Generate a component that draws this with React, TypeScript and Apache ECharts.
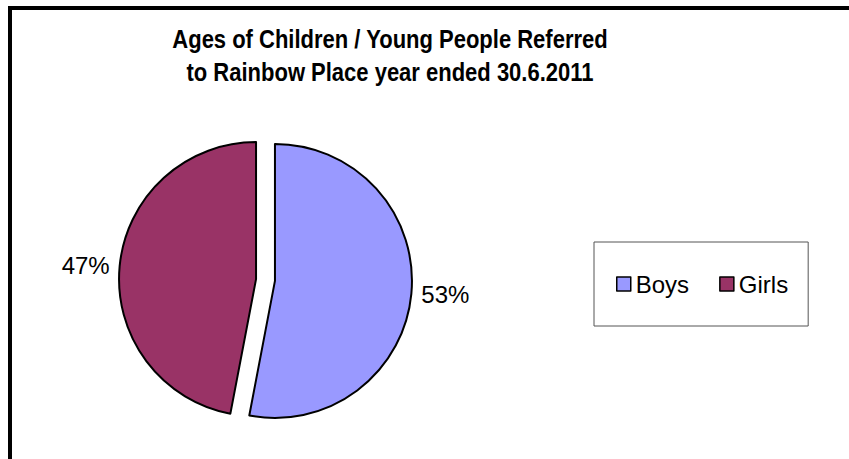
import React, { useEffect, useRef } from "react";
import * as echarts from "echarts";

const titleLines = [
  "Ages of Children / Young People Referred",
  "to Rainbow Place year ended 30.6.2011",
];
const categories = ["Boys", "Girls"];
const values = [53, 47];
const colors = ["#9999FF", "#993366"];

export default function App() {
  const ref = useRef<HTMLDivElement>(null);
  useEffect(() => {
    if (!ref.current) return;
    const chart = echarts.init(ref.current, undefined, { renderer: "svg" });
    const font = "'Liberation Sans', Arial, Helvetica, sans-serif";
    chart.setOption({
      animation: false,
      backgroundColor: "#ffffff",
      graphic: [
        {
          type: "rect",
          shape: { x: 10, y: 8, width: 1000, height: 1000 },
          style: { fill: "none", stroke: "#000", lineWidth: 4 },
          silent: true,
          z: 10,
        },
        ...titleLines.map((t, i) => ({
          type: "text",
          x: 390,
          y: i === 0 ? 39 : 72.5,
          scaleY: 1.14,
          style: {
            text: t,
            font: `bold 22px ${font}`,
            fill: "#000",
            textAlign: "center",
            textVerticalAlign: "middle",
          },
          silent: true,
        })),
      ],
      legend: {
        data: categories,
        orient: "horizontal",
        left: 594,
        top: 242,
        padding: [30, 20, 30, 22],
        itemGap: 30,
        itemWidth: 14,
        itemHeight: 14,
        icon: "rect",
        borderColor: "#555",
        borderWidth: 1,
        borderRadius: 0,
        selectedMode: false,
        itemStyle: { borderColor: "#000", borderWidth: 1.5 },
        textStyle: { fontFamily: font, fontSize: 24, color: "#000" },
      },
      series: [
        {
          type: "pie",
          center: [265.5, 280],
          radius: 137,
          startAngle: 90,
          clockwise: true,
          selectedMode: "multiple",
          selectedOffset: 9.5,
          emphasis: { disabled: true },
          itemStyle: { borderColor: "#000", borderWidth: 2 },
          label: {
            show: true,
            position: "outside",
            formatter: "{d}%",
            fontFamily: font,
            fontSize: 24,
            color: "#000",
          },
          labelLine: { show: false, length: 5, length2: 0 },
          percentPrecision: 0,
          data: categories.map((c, i) => ({
            name: c,
            value: values[i],
            selected: true,
            itemStyle: { color: colors[i] },
          })),
        },
      ],
    });
    return () => chart.dispose();
  }, []);
  return (
    <div
      ref={ref}
      style={{ position: "fixed", left: 0, top: 0, width: 849, height: 459, background: "#fff" }}
    />
  );
}
